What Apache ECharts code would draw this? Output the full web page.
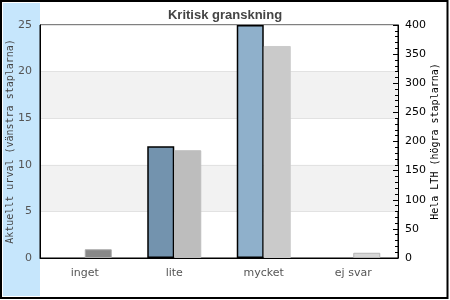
<!DOCTYPE html>
<html><head><meta charset="utf-8">
<script src="https://cdn.jsdelivr.net/npm/echarts@6/dist/echarts.min.js"></script>
<style>html,body{margin:0;padding:0;background:#fff}#c{width:450px;height:300px}</style>
</head><body><div id="c"></div>
<script>
const categories = ['inget', 'lite', 'mycket', 'ej svar'];
const urvalValues = [0, 12, 25, 0];
const lthValues = [15, 185, 364, 9];
const leftTicks = [0, 5, 10, 15, 20, 25];
const rightTicks = [0, 50, 100, 150, 200, 250, 300, 350, 400];
const urvalColors = ['#7393ae', '#7393ae', '#8fb0cb', '#8fb0cb'];
const lthColors = ['#888888', '#bdbdbd', '#cacaca', '#d6d6d6'];
const lthBorders = ['#aaaaaa', '#bdbdbd', '#cacaca', '#b4b4b4'];

const chart = echarts.init(document.getElementById('c'), null, {renderer: 'canvas'});
chart.setOption({
  animation: false,
  backgroundColor: '#ffffff',
  graphic: [
    {type: 'rect', z: -10, shape: {x: 3, y: 3, width: 37, height: 293}, style: {fill: '#c6e6fc'}},
    {type: 'rect', z: 100, shape: {x: 1, y: 1, width: 446.5, height: 297}, style: {fill: 'none', stroke: '#000', lineWidth: 2}}
  ],
  title: {
    text: 'Kritisk granskning', left: 'center', top: 4,
    textStyle: {fontFamily: 'Liberation Sans, Arial', fontWeight: 'bold', fontSize: 13, color: '#444'}
  },
  grid: {left: 40, right: 52, top: 25, bottom: 42, containLabel: false, outerBoundsMode: 'none',
    show: true, borderColor: '#000', borderWidth: 1, backgroundColor: 'transparent'},
  xAxis: {
    type: 'category', data: categories,
    axisLine: {lineStyle: {color: '#000', width: 1}},
    axisTick: {show: false},
    axisLabel: {fontFamily: 'DejaVu Sans', fontSize: 11, color: '#555', margin: 10}
  },
  yAxis: [
    {
      type: 'value', min: 0, max: 25, interval: 5, position: 'left',
      name: 'Aktuellt urval (vänstra staplarna)', nameLocation: 'middle', nameRotate: 90, nameGap: 25,
      nameMoveOverlap: false,
      nameTextStyle: {fontFamily: 'DejaVu Sans Mono', fontSize: 10, color: '#444'},
      axisLine: {show: true, lineStyle: {color: '#000', width: 1}},
      axisTick: {show: false},
      axisLabel: {fontFamily: 'DejaVu Sans', fontSize: 11, color: '#555', margin: 8,
        formatter: v => leftTicks.includes(v) ? String(v) : ''},
      splitLine: {show: true, lineStyle: {color: '#e2e2e2', width: 1}},
      splitArea: {show: true, areaStyle: {color: ['rgba(255,255,255,0)', '#f2f2f2']}}
    },
    {
      type: 'value', min: 0, max: 400, interval: 50, position: 'right',
      name: 'Hela LTH (högra staplarna)', nameLocation: 'middle', nameRotate: 90, nameGap: 32,
      nameMoveOverlap: false,
      nameTextStyle: {fontFamily: 'DejaVu Sans Mono', fontSize: 10, color: '#000'},
      axisLine: {show: true, lineStyle: {color: '#000', width: 1}},
      axisTick: {show: true, inside: true, length: 5, lineStyle: {color: '#000'}},
      minorTick: {show: true, splitNumber: 5, length: 3, lineStyle: {color: '#000'}},
      axisLabel: {fontFamily: 'DejaVu Sans', fontSize: 11, color: '#000', margin: 7,
        formatter: v => rightTicks.includes(v) ? String(v) : ''},
      splitLine: {show: false}
    }
  ],
  series: [
    {
      type: 'bar', yAxisIndex: 0, barWidth: 27, barGap: '0%',
      data: urvalValues.map((v, i) => ({value: v, itemStyle: {color: urvalColors[i], borderColor: '#000', borderWidth: v > 0 ? 1.5 : 0}}))
    },
    {
      type: 'bar', yAxisIndex: 1, barWidth: 27, barGap: '0%',
      data: lthValues.map((v, i) => ({value: v, itemStyle: {color: lthColors[i], borderColor: lthBorders[i], borderWidth: 1}}))
    }
  ]
});
</script></body></html>
